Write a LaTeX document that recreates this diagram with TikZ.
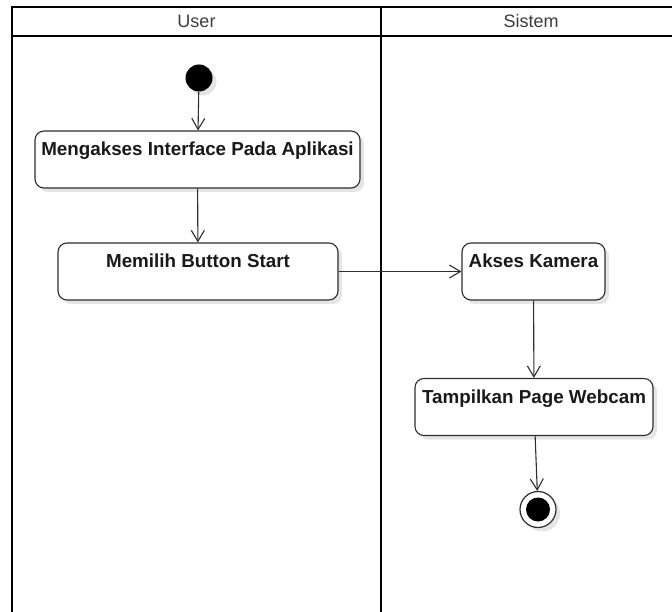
\documentclass[tikz,border=0pt]{standalone}
\usepackage{fontspec}
\setmainfont{Liberation Sans}
\usetikzlibrary{arrows.meta,shadows}
\definecolor{lanetext}{HTML}{3C3C3C}
\definecolor{boxline}{HTML}{2E2E2E}

\begin{document}
\begin{tikzpicture}[x=1pt, y=-1pt, >={Straight Barb[length=11pt,width=13pt]},
    lane/.style={draw=black, line width=2.4pt},
    head/.style={text=lanetext, font=\fontsize{18}{20}\selectfont},
    act/.style={draw=boxline, line width=1.1pt, rounded corners=9pt, fill=white,
      text=black!90, font=\fontsize{18.8}{21}\selectfont\bfseries,
      text height=13pt, text depth=20pt, inner ysep=12pt, inner xsep=0pt,
      drop shadow={shadow xshift=4pt, shadow yshift=-4pt, fill=black!10, opacity=1}},
    flow/.style={->, draw=boxline, line width=1.1pt}]
  \useasboundingbox (0,0) rectangle (672,612);
  \clip (0,0) rectangle (672,612);

  % Swimlanes
  \draw[lane] (12,7) rectangle (681,630);
  \draw[lane] (12,36) -- (681,36);
  \draw[lane] (381,7) -- (381,630);
  \foreach \x/\name in {196.5/User, 531/Sistem} {
    \node[head] (L-\name) at (\x,21.5) {\name};
  }

  % Start and end
  \node[circle, fill=black, inner sep=0pt, minimum size=27pt,
    drop shadow={shadow xshift=4pt, shadow yshift=-4pt, fill=black!10, opacity=1}] (S) at (199,78) {};
  \node[circle, draw=boxline, line width=1.2pt, fill=white, inner sep=0pt, minimum size=36pt,
    drop shadow={shadow xshift=4pt, shadow yshift=-4pt, fill=black!10, opacity=1},
    path picture={\fill[black] (path picture bounding box.center) circle (12pt);}] (E) at (538,509.5) {};

  % Activities
  \foreach \i/\x/\y/\w/\t in {1/197.5/159.5/325/Mengakses Interface Pada Aplikasi,
      2/198/271.5/280/Memilih Button Start,
      3/533.5/271.5/143/Akses Kamera,
      4/534/407/238/Tampilkan Page Webcam} {
    \node[act, minimum width=\w pt] (A-\i) at (\x,\y) {\t};
  }

  % Connections
  \foreach \a/\b in {S/A-1, A-1/A-2, A-2/A-3, A-3/A-4, A-4/E} {
    \draw[flow] (\a) -- (\b);
  }
\end{tikzpicture}
\end{document}
